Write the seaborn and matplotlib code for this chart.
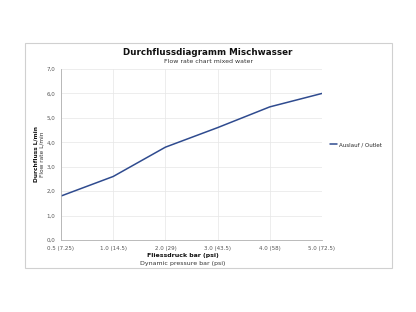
import matplotlib
matplotlib.use("Agg")
import matplotlib.pyplot as plt
import seaborn as sns
import pandas as pd
from matplotlib.patches import Rectangle
from matplotlib.ticker import FuncFormatter

categories = ["0.5 (7.25)", "1.0 (14.5)", "2.0 (29)", "3.0 (43.5)", "4.0 (58)", "5.0 (72.5)"]
flow = [1.8, 2.6, 3.8, 4.6, 5.45, 6.0]
series_name = "Auslauf / Outlet"

sns.set_theme(style="white")
plt.rcParams['font.family'] = ['DejaVu Sans']

df = pd.DataFrame({"pos": list(range(len(categories))), "flow": flow, "series": series_name})

fig = plt.figure(figsize=(4.16, 3.12), dpi=100)
fig.patch.set_facecolor("white")
fig.patches.append(Rectangle((0.060, 0.141), 0.882, 0.721, transform=fig.transFigure,
                             fill=False, edgecolor="#d0d0d0", linewidth=0.8))
ax = fig.add_axes([0.1466, 0.2308, 0.6274, 0.548])

sns.lineplot(data=df, x="pos", y="flow", hue="series", palette=["#2f4b8f"], linewidth=1.1, ax=ax)

ax.set_xlim(0, len(categories) - 1)
ax.set_ylim(0, 7)
ax.set_xticks(range(len(categories)))
ax.set_xticklabels(categories)
ax.set_yticks([0, 1, 2, 3, 4, 5, 6, 7])
ax.yaxis.set_major_formatter(FuncFormatter(lambda v, p: f"{v:.1f}".replace(".", ",")))
ax.tick_params(axis="both", labelsize=4.0, colors="#555555", length=2, width=0.5, pad=2)
ax.tick_params(axis="x", direction="out")
ax.grid(True, color="#e6e6e6", linewidth=0.5)
for s in ["top", "right"]:
    ax.spines[s].set_visible(False)
for s in ["left", "bottom"]:
    ax.spines[s].set_color("#b0b0b0")
    ax.spines[s].set_linewidth(0.6)
ax.set_xlabel("")
ax.set_ylabel("")

leg = ax.legend(loc="center left", bbox_to_anchor=(1.01, 0.556), frameon=False, fontsize=4.0,
                handlelength=1.4, handletextpad=0.3)

fig.text(0.5, 0.833, "Durchflussdiagramm Mischwasser", ha="center", va="center",
         fontsize=6.3, fontweight="bold", color="#111111")
fig.text(0.5, 0.804, "Flow rate chart mixed water", ha="center", va="center",
         fontsize=4.5, color="#333333")
fig.text(0.440, 0.180, "Fliessdruck bar (psi)", ha="center", va="center",
         fontsize=4.5, fontweight="bold", color="#111111")
fig.text(0.440, 0.157, "Dynamic pressure bar (psi)", ha="center", va="center",
         fontsize=4.5, color="#333333")
fig.text(0.086, 0.505, "Durchfluss L/min", ha="center", va="center", rotation=90,
         fontsize=4.2, fontweight="bold", color="#111111")
fig.text(0.102, 0.505, "Flow rate L/min", ha="center", va="center", rotation=90,
         fontsize=4.2, color="#333333")

fig.savefig("out.png", dpi=100, facecolor="white")
